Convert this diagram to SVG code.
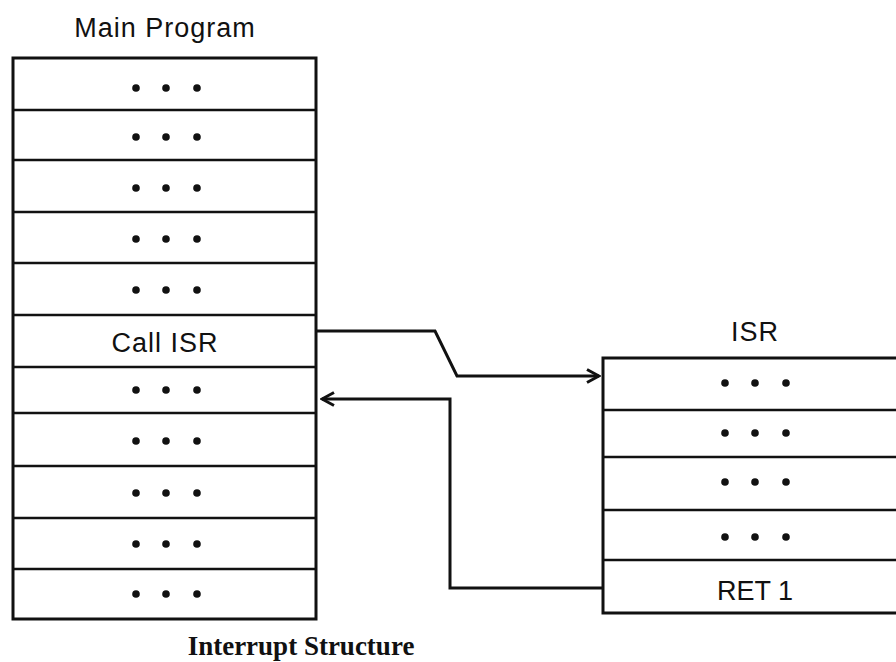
<svg xmlns="http://www.w3.org/2000/svg" width="896" height="662" viewBox="0 0 896 662">
<style>
.box{fill:#fff;stroke:#111;stroke-width:3}
.row{stroke:#111;stroke-width:2.5}
.lbl{font-family:"Liberation Sans",Arial,sans-serif;font-size:27px;letter-spacing:1px;fill:#111;text-anchor:middle}
.dot{fill:#111}
.cap{font-family:"Liberation Serif","Times New Roman",serif;font-weight:bold;font-size:27px;fill:#111;text-anchor:middle}
.con{fill:none;stroke:#111;stroke-width:3;stroke-linejoin:miter}
</style>
<defs>
<marker id="arr" viewBox="0 0 16 16" refX="14" refY="8" markerWidth="16" markerHeight="16" markerUnits="userSpaceOnUse" orient="auto">
<path d="M2,1.5 L14,8 L2,14.5" fill="none" stroke="#111" stroke-width="3"/>
</marker>
<g id="dots3"><circle cx="-30" cy="0" r="3.8" class="dot"/><circle cx="0" cy="0" r="3.8" class="dot"/><circle cx="31" cy="0" r="3.8" class="dot"/></g>
</defs>
<rect width="896" height="662" fill="#fff"/>
<g id="main-program">
<text class="lbl" x="165" y="37">Main Program</text>
<rect class="box" x="13" y="58" width="303" height="561"/>
<line class="row" x1="13" y1="110" x2="316" y2="110"/>
<line class="row" x1="13" y1="160" x2="316" y2="160"/>
<line class="row" x1="13" y1="212" x2="316" y2="212"/>
<line class="row" x1="13" y1="263" x2="316" y2="263"/>
<line class="row" x1="13" y1="315" x2="316" y2="315"/>
<line class="row" x1="13" y1="367" x2="316" y2="367"/>
<line class="row" x1="13" y1="413" x2="316" y2="413"/>
<line class="row" x1="13" y1="466" x2="316" y2="466"/>
<line class="row" x1="13" y1="518" x2="316" y2="518"/>
<line class="row" x1="13" y1="569" x2="316" y2="569"/>
<use href="#dots3" x="166" y="88"/>
<use href="#dots3" x="166" y="137"/>
<use href="#dots3" x="166" y="188"/>
<use href="#dots3" x="166" y="239"/>
<use href="#dots3" x="166" y="290"/>
<text class="lbl" x="165" y="352">Call ISR</text>
<use href="#dots3" x="166" y="390"/>
<use href="#dots3" x="166" y="441"/>
<use href="#dots3" x="166" y="493"/>
<use href="#dots3" x="166" y="544"/>
<use href="#dots3" x="166" y="594"/>
</g>
<g id="isr">
<text class="lbl" x="755" y="341">ISR</text>
<path class="box" d="M900,358 L603,358 L603,613 L900,613"/>
<line class="row" x1="603" y1="410" x2="900" y2="410"/>
<line class="row" x1="603" y1="457" x2="900" y2="457"/>
<line class="row" x1="603" y1="510" x2="900" y2="510"/>
<line class="row" x1="603" y1="560" x2="900" y2="560"/>
<use href="#dots3" x="755" y="383"/>
<use href="#dots3" x="755" y="433"/>
<use href="#dots3" x="755" y="482"/>
<use href="#dots3" x="755" y="537"/>
<text class="lbl" x="755" y="600" style="letter-spacing:0px">RET 1</text>
</g>
<g id="connectors">
<path class="con" d="M316,331 L435,331 L457,376 L599,376" marker-end="url(#arr)"/>
<path class="con" d="M603,588 L450,588 L450,399 L322,399" marker-end="url(#arr)"/>
</g>
<text class="cap" x="301" y="655">Interrupt Structure</text>
</svg>
